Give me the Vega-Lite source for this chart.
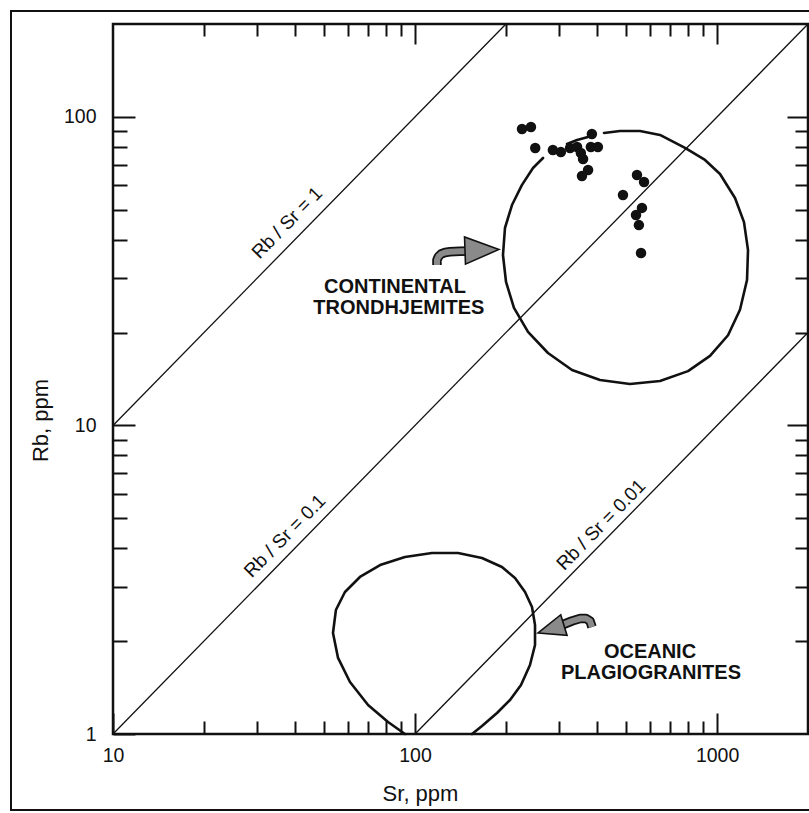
{
  "$schema": "https://vega.github.io/schema/vega-lite/v6.json",
  "width": 695,
  "height": 710,
  "autosize": {"type": "none"},
  "padding": {"left": 113, "top": 24, "right": 1, "bottom": 79},
  "background": "white",
  "config": {
    "font": "Liberation Sans",
    "view": {"stroke": "#111", "strokeWidth": 2.5},
    "axis": {
      "grid": false,
      "domain": false,
      "tickColor": "#111",
      "tickWidth": 2,
      "labelFont": "Liberation Sans",
      "labelFontSize": 19.5,
      "labelColor": "#111",
      "labelFlush": false,
      "labelOverlap": false,
      "titleFont": "Liberation Sans",
      "titleFontSize": 22,
      "titleFontWeight": "normal",
      "titleColor": "#111"
    }
  },
  "datasets": {
    "frame": [{"Sr": 4.595, "Sr2": 2200, "Rb": 220.3, "Rb2": 0.567}],
    "ratios": [
      {"r": "1", "Sr": 10, "Rb": 10}, {"r": "1", "Sr": 200, "Rb": 200},
      {"r": "0.1", "Sr": 10, "Rb": 1}, {"r": "0.1", "Sr": 2000, "Rb": 200},
      {"r": "0.01", "Sr": 100, "Rb": 1}, {"r": "0.01", "Sr": 2000, "Rb": 20}
    ],
    "samples": [
      {"Sr": 226, "Rb": 91.4}, {"Sr": 242, "Rb": 92.7}, {"Sr": 250, "Rb": 79.3},
      {"Sr": 286, "Rb": 78.1}, {"Sr": 304, "Rb": 76.9}, {"Sr": 326, "Rb": 79.3},
      {"Sr": 344, "Rb": 79.9}, {"Sr": 385, "Rb": 88.0}, {"Sr": 382, "Rb": 79.9},
      {"Sr": 403, "Rb": 79.9}, {"Sr": 354, "Rb": 76.4}, {"Sr": 360, "Rb": 73.0},
      {"Sr": 374, "Rb": 67.3}, {"Sr": 357, "Rb": 64.3}, {"Sr": 543, "Rb": 64.8},
      {"Sr": 573, "Rb": 61.5}, {"Sr": 488, "Rb": 55.8}, {"Sr": 564, "Rb": 50.7},
      {"Sr": 539, "Rb": 48.1}, {"Sr": 551, "Rb": 44.6}, {"Sr": 560, "Rb": 36.2}
    ],
    "fields": [
      {"seg": "cont-a", "i": 1, "Sr": 422.3, "Rb": 88.7},
      {"seg": "cont-a", "i": 2, "Sr": 477.0, "Rb": 90.0},
      {"seg": "cont-a", "i": 3, "Sr": 555.6, "Rb": 90.0},
      {"seg": "cont-a", "i": 4, "Sr": 647.1, "Rb": 87.4},
      {"seg": "cont-a", "i": 5, "Sr": 783.1, "Rb": 79.3},
      {"seg": "cont-a", "i": 6, "Sr": 912.0, "Rb": 72.5},
      {"seg": "cont-a", "i": 7, "Sr": 1022.6, "Rb": 65.3},
      {"seg": "cont-a", "i": 8, "Sr": 1146.6, "Rb": 54.6},
      {"seg": "cont-a", "i": 9, "Sr": 1227.8, "Rb": 45.6},
      {"seg": "cont-a", "i": 10, "Sr": 1266.0, "Rb": 37.0},
      {"seg": "cont-a", "i": 11, "Sr": 1256.4, "Rb": 29.6},
      {"seg": "cont-a", "i": 12, "Sr": 1190.7, "Rb": 23.7},
      {"seg": "cont-a", "i": 13, "Sr": 1087.0, "Rb": 19.6},
      {"seg": "cont-a", "i": 14, "Sr": 947.5, "Rb": 16.8},
      {"seg": "cont-a", "i": 15, "Sr": 801.2, "Rb": 15.0},
      {"seg": "cont-a", "i": 16, "Sr": 647.1, "Rb": 13.93},
      {"seg": "cont-a", "i": 17, "Sr": 514.8, "Rb": 13.63},
      {"seg": "cont-a", "i": 18, "Sr": 409.7, "Rb": 14.04},
      {"seg": "cont-a", "i": 19, "Sr": 330.9, "Rb": 15.12},
      {"seg": "cont-a", "i": 20, "Sr": 275.5, "Rb": 17.17},
      {"seg": "cont-a", "i": 21, "Sr": 236.6, "Rb": 20.09},
      {"seg": "cont-a", "i": 22, "Sr": 212.6, "Rb": 24.03},
      {"seg": "cont-a", "i": 23, "Sr": 200.1, "Rb": 29.17},
      {"seg": "cont-a", "i": 24, "Sr": 195.5, "Rb": 35.68},
      {"seg": "cont-a", "i": 25, "Sr": 198.5, "Rb": 43.64},
      {"seg": "cont-a", "i": 26, "Sr": 209.4, "Rb": 51.8},
      {"seg": "cont-a", "i": 27, "Sr": 226.0, "Rb": 60.2},
      {"seg": "cont-a", "i": 28, "Sr": 245.8, "Rb": 68.3},
      {"seg": "cont-a", "i": 29, "Sr": 265.3, "Rb": 73.6},
      {"seg": "cont-b", "i": 1, "Sr": 318.5, "Rb": 81.7},
      {"seg": "cont-b", "i": 2, "Sr": 343.9, "Rb": 84.2},
      {"seg": "cont-b", "i": 3, "Sr": 373.8, "Rb": 86.0},
      {"seg": "ocean", "i": 1, "Sr": 92.6, "Rb": 1.0},
      {"seg": "ocean", "i": 2, "Sr": 81.4, "Rb": 1.094},
      {"seg": "ocean", "i": 3, "Sr": 69.9, "Rb": 1.242},
      {"seg": "ocean", "i": 4, "Sr": 60.9, "Rb": 1.474},
      {"seg": "ocean", "i": 5, "Sr": 55.6, "Rb": 1.764},
      {"seg": "ocean", "i": 6, "Sr": 53.5, "Rb": 2.125},
      {"seg": "ocean", "i": 7, "Sr": 54.7, "Rb": 2.522},
      {"seg": "ocean", "i": 8, "Sr": 58.6, "Rb": 2.886},
      {"seg": "ocean", "i": 9, "Sr": 65.7, "Rb": 3.228},
      {"seg": "ocean", "i": 10, "Sr": 76.6, "Rb": 3.528},
      {"seg": "ocean", "i": 11, "Sr": 92.6, "Rb": 3.746},
      {"seg": "ocean", "i": 12, "Sr": 113.8, "Rb": 3.86},
      {"seg": "ocean", "i": 13, "Sr": 138.8, "Rb": 3.86},
      {"seg": "ocean", "i": 14, "Sr": 166.6, "Rb": 3.719},
      {"seg": "ocean", "i": 15, "Sr": 194.0, "Rb": 3.477},
      {"seg": "ocean", "i": 16, "Sr": 214.3, "Rb": 3.203},
      {"seg": "ocean", "i": 17, "Sr": 231.3, "Rb": 2.886},
      {"seg": "ocean", "i": 18, "Sr": 243.9, "Rb": 2.579},
      {"seg": "ocean", "i": 19, "Sr": 249.6, "Rb": 2.256},
      {"seg": "ocean", "i": 20, "Sr": 249.6, "Rb": 1.943},
      {"seg": "ocean", "i": 21, "Sr": 240.2, "Rb": 1.673},
      {"seg": "ocean", "i": 22, "Sr": 224.3, "Rb": 1.442},
      {"seg": "ocean", "i": 23, "Sr": 206.3, "Rb": 1.289},
      {"seg": "ocean", "i": 24, "Sr": 186.8, "Rb": 1.17},
      {"seg": "ocean", "i": 25, "Sr": 166.6, "Rb": 1.061},
      {"seg": "ocean", "i": 26, "Sr": 154.4, "Rb": 1.0}
    ],
    "shafts": [
      {"arrow": "cont", "i": 1, "Sr": 118.2, "Rb": 33.11},
      {"arrow": "cont", "i": 2, "Sr": 118.2, "Rb": 34.37},
      {"arrow": "cont", "i": 3, "Sr": 119.6, "Rb": 35.28},
      {"arrow": "cont", "i": 4, "Sr": 121.9, "Rb": 35.94},
      {"arrow": "cont", "i": 5, "Sr": 125.7, "Rb": 36.35},
      {"arrow": "cont", "i": 6, "Sr": 130.5, "Rb": 36.54},
      {"arrow": "cont", "i": 7, "Sr": 140.9, "Rb": 36.68},
      {"arrow": "cont", "i": 8, "Sr": 154.4, "Rb": 36.76},
      {"arrow": "ocean", "i": 1, "Sr": 306.6, "Rb": 2.256},
      {"arrow": "ocean", "i": 2, "Sr": 330.9, "Rb": 2.324},
      {"arrow": "ocean", "i": 3, "Sr": 351.8, "Rb": 2.367},
      {"arrow": "ocean", "i": 4, "Sr": 368.1, "Rb": 2.367},
      {"arrow": "ocean", "i": 5, "Sr": 379.6, "Rb": 2.324},
      {"arrow": "ocean", "i": 6, "Sr": 385.4, "Rb": 2.222}
    ],
    "headCont": [{"Sr": 166.6, "Rb": 37.04}],
    "headOcean": [{"Sr": 281.9, "Rb": 2.189}],
    "regions": [
      {"t": "CONTINENTAL", "Sr": 85.8, "Rb": 28.1},
      {"t": "TRONDHJEMITES", "Sr": 88.4, "Rb": 24.0},
      {"t": "OCEANIC", "Sr": 599.7, "Rb": 1.844},
      {"t": "PLAGIOGRANITES", "Sr": 604.3, "Rb": 1.577}
    ],
    "ratioLabels": [
      {"t": "Rb / Sr = 1", "Sr": 37.7, "Rb": 45.3},
      {"t": "Rb / Sr = 0.1", "Sr": 37.1, "Rb": 4.38},
      {"t": "Rb / Sr = 0.01", "Sr": 413, "Rb": 4.76}
    ]
  },
  "layer": [
    {
      "data": {"name": "frame"},
      "mark": {"type": "rect", "fill": "transparent", "stroke": "#111", "strokeWidth": 2},
      "encoding": {
        "x": {"field": "Sr", "type": "quantitative", "scale": {"type": "log", "domain": [10, 2000], "nice": false}, "axis": null},
        "x2": {"field": "Sr2"},
        "y": {"field": "Rb", "type": "quantitative", "scale": {"type": "log", "domain": [1, 200], "nice": false}, "axis": null},
        "y2": {"field": "Rb2"}
      }
    },
    {
      "data": {"name": "ratios"},
      "mark": {"type": "line", "stroke": "#111", "strokeWidth": 1.3},
      "encoding": {
        "x": {"field": "Sr", "type": "quantitative", "scale": {"type": "log", "domain": [10, 2000], "nice": false},
          "axis": {"orient": "bottom", "values": [10, 100, 1000], "format": "d", "tickSize": -21, "labelPadding": 33,
            "title": "Sr, ppm", "titleX": 307, "titleY": 59, "titleBaseline": "middle"}},
        "y": {"field": "Rb", "type": "quantitative", "scale": {"type": "log", "domain": [1, 200], "nice": false},
          "axis": {"orient": "left", "values": [1, 10, 100], "format": "d", "tickSize": -22, "labelPadding": 39,
            "title": "Rb, ppm", "titleX": -73, "titleY": 396, "titleBaseline": "middle"}},
        "detail": {"field": "r"}
      }
    },
    {
      "data": {"name": "fields"},
      "mark": {"type": "line", "stroke": "#111", "strokeWidth": 2.6, "strokeCap": "round", "strokeJoin": "round"},
      "encoding": {
        "x": {"field": "Sr", "type": "quantitative", "scale": {"type": "log", "domain": [10, 2000], "nice": false},
          "axis": {"orient": "bottom", "values": [20, 30, 40, 50, 60, 70, 80, 90, 200, 300, 400, 500, 600, 700, 800, 900], "tickSize": -13, "labels": false, "title": null}},
        "y": {"field": "Rb", "type": "quantitative", "scale": {"type": "log", "domain": [1, 200], "nice": false},
          "axis": {"orient": "left", "values": [2, 3, 4, 5, 6, 7, 8, 9, 20, 30, 40, 50, 60, 70, 80, 90], "tickSize": -14, "labels": false, "title": null}},
        "detail": {"field": "seg"},
        "order": {"field": "i", "type": "quantitative"}
      }
    },
    {
      "data": {"name": "samples"},
      "mark": {"type": "point", "shape": "circle", "filled": true, "color": "#111", "opacity": 1, "size": 110},
      "encoding": {
        "x": {"field": "Sr", "type": "quantitative", "scale": {"type": "log", "domain": [10, 2000], "nice": false},
          "axis": {"orient": "top", "values": [100, 1000], "tickSize": -20, "labels": false, "title": null}},
        "y": {"field": "Rb", "type": "quantitative", "scale": {"type": "log", "domain": [1, 200], "nice": false},
          "axis": {"orient": "right", "values": [10, 100], "tickSize": -21, "labels": false, "title": null}}
      }
    },
    {
      "data": {"name": "shafts"},
      "mark": {"type": "line", "stroke": "#111", "strokeWidth": 9.5, "strokeCap": "butt", "strokeJoin": "round"},
      "encoding": {
        "x": {"field": "Sr", "type": "quantitative", "scale": {"type": "log", "domain": [10, 2000], "nice": false},
          "axis": {"orient": "top", "values": [20, 30, 40, 50, 60, 70, 80, 90, 200, 300, 400, 500, 600, 700, 800, 900], "tickSize": -12, "labels": false, "title": null}},
        "y": {"field": "Rb", "type": "quantitative", "scale": {"type": "log", "domain": [1, 200], "nice": false},
          "axis": {"orient": "right", "values": [2, 3, 4, 5, 6, 7, 8, 9, 20, 30, 40, 50, 60, 70, 80, 90], "tickSize": -13, "labels": false, "title": null}},
        "detail": {"field": "arrow"},
        "order": {"field": "i", "type": "quantitative"}
      }
    },
    {
      "data": {"name": "shafts"},
      "mark": {"type": "line", "stroke": "#8a8a8a", "strokeWidth": 6, "strokeCap": "butt", "strokeJoin": "round"},
      "encoding": {
        "x": {"field": "Sr", "type": "quantitative", "scale": {"type": "log", "domain": [10, 2000], "nice": false}, "axis": null},
        "y": {"field": "Rb", "type": "quantitative", "scale": {"type": "log", "domain": [1, 200], "nice": false}, "axis": null},
        "detail": {"field": "arrow"},
        "order": {"field": "i", "type": "quantitative"}
      }
    },
    {
      "data": {"name": "headCont"},
      "mark": {"type": "point", "shape": "M1,0L-1,-0.8L-1,0.8Z", "filled": true, "fill": "#8a8a8a", "fillOpacity": 1, "stroke": "#111", "strokeWidth": 1.6, "opacity": 1, "size": 1156, "angle": -2},
      "encoding": {
        "x": {"field": "Sr", "type": "quantitative", "scale": {"type": "log", "domain": [10, 2000], "nice": false}, "axis": null},
        "y": {"field": "Rb", "type": "quantitative", "scale": {"type": "log", "domain": [1, 200], "nice": false}, "axis": null}
      }
    },
    {
      "data": {"name": "headOcean"},
      "mark": {"type": "point", "shape": "M1,0L-1,-0.8L-1,0.8Z", "filled": true, "fill": "#8a8a8a", "fillOpacity": 1, "stroke": "#111", "strokeWidth": 1.6, "opacity": 1, "size": 729, "angle": 163},
      "encoding": {
        "x": {"field": "Sr", "type": "quantitative", "scale": {"type": "log", "domain": [10, 2000], "nice": false}, "axis": null},
        "y": {"field": "Rb", "type": "quantitative", "scale": {"type": "log", "domain": [1, 200], "nice": false}, "axis": null}
      }
    },
    {
      "data": {"name": "regions"},
      "mark": {"type": "text", "font": "Liberation Sans", "fontWeight": "bold", "fontSize": 20, "color": "#111", "align": "center", "baseline": "middle"},
      "encoding": {
        "x": {"field": "Sr", "type": "quantitative", "scale": {"type": "log", "domain": [10, 2000], "nice": false}, "axis": null},
        "y": {"field": "Rb", "type": "quantitative", "scale": {"type": "log", "domain": [1, 200], "nice": false}, "axis": null},
        "text": {"field": "t"}
      }
    },
    {
      "data": {"name": "ratioLabels"},
      "mark": {"type": "text", "font": "Liberation Sans", "fontSize": 19, "color": "#111", "align": "center", "baseline": "middle", "angle": -45.6},
      "encoding": {
        "x": {"field": "Sr", "type": "quantitative", "scale": {"type": "log", "domain": [10, 2000], "nice": false}, "axis": null},
        "y": {"field": "Rb", "type": "quantitative", "scale": {"type": "log", "domain": [1, 200], "nice": false}, "axis": null},
        "text": {"field": "t"}
      }
    }
  ],
  "resolve": {"axis": {"x": "independent", "y": "independent"}}
}
